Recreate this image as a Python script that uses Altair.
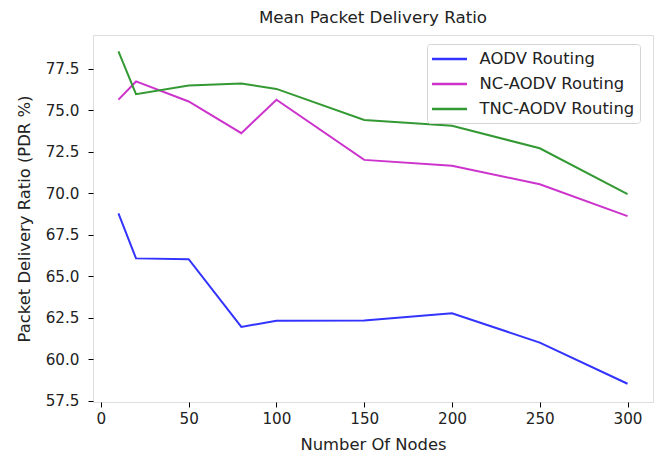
import altair as alt
import pandas as pd

nodes = [10, 20, 50, 80, 100, 150, 200, 250, 300]
aodv = [68.8, 66.08, 66.03, 61.95, 62.32, 62.34, 62.77, 61.0, 58.52]
nc_aodv = [75.65, 76.75, 75.54, 73.63, 75.65, 72.02, 71.66, 70.55, 68.63]
tnc_aodv = [78.56, 75.98, 76.5, 76.63, 76.3, 74.43, 74.08, 72.72, 69.95]

series_names = ["AODV Routing", "NC-AODV Routing", "TNC-AODV Routing"]
series_colors = ["#3333ff", "#cc33cc", "#339933"]
x_ticks = [0, 50, 100, 150, 200, 250, 300]
y_ticks = [57.5, 60.0, 62.5, 65.0, 67.5, 70.0, 72.5, 75.0, 77.5]

rows = []
for name, vals in zip(series_names, [aodv, nc_aodv, tnc_aodv]):
    for i, (n, v) in enumerate(zip(nodes, vals)):
        rows.append({"nodes": n, "pdr": v, "series": name, "order": i})
df = pd.DataFrame(rows)

FONT = "DejaVu Sans"
TXT = "#222222"
TICK_FS = 15.2
LAB_FS = 16.4

chart = alt.Chart(df).mark_line(strokeWidth=2).encode(
    x=alt.X("nodes:Q",
            scale=alt.Scale(domain=[-4.5, 314.5], nice=False, zero=False),
            axis=alt.Axis(values=x_ticks, title="Number Of Nodes", grid=False,
                          domain=False, tickColor="#000", tickSize=5, tickWidth=1,
                          labelPadding=4, labelFontSize=TICK_FS, labelFont=FONT,
                          labelColor=TXT, titleFont=FONT, titleFontSize=LAB_FS,
                          titleFontWeight="normal", titleColor=TXT, titlePadding=10,
                          labelFlush=False)),
    y=alt.Y("pdr:Q",
            scale=alt.Scale(domain=[57.42, 79.55], nice=False, zero=False),
            axis=alt.Axis(values=y_ticks, format=".1f", title="Packet Delivery Ratio (PDR %)",
                          grid=False, domain=False, tickColor="#000", tickSize=5, tickWidth=1,
                          labelPadding=9, labelFontSize=TICK_FS, labelFont=FONT,
                          labelColor=TXT, titleFont=FONT, titleFontSize=LAB_FS,
                          titleFontWeight="normal", titleColor=TXT, titlePadding=13,
                          labelFlush=False)),
    color=alt.Color("series:N",
                    scale=alt.Scale(domain=series_names, range=series_colors),
                    sort=series_names,
                    legend=alt.Legend(title=None, orient="none", legendX=334, legendY=9,
                                      symbolType="M-2,0H2", symbolSize=306,
                                      symbolStrokeWidth=2.5, symbolOffset=7.5,
                                      labelFont=FONT,
                                      labelFontSize=LAB_FS, labelColor=TXT,
                                      labelOffset=20, rowPadding=6,
                                      padding=5, fillColor="white",
                                      strokeColor="#d5d5d5", cornerRadius=3)),
    detail="series:N",
    order="order:Q",
).properties(
    width=560,
    height=367,
    title=alt.TitleParams("Mean Packet Delivery Ratio", font=FONT, fontSize=16.7,
                          fontWeight="normal", color=TXT, anchor="middle", offset=8),
    autosize=alt.AutoSizeParams(type="none"),
    padding={"left": 93, "top": 35, "right": 9, "bottom": 55},
).configure_view(
    stroke="#222222", strokeWidth=1
).configure(
    background="white"
)

chart.save("out.html", embed_options={"renderer": "svg", "actions": False})
